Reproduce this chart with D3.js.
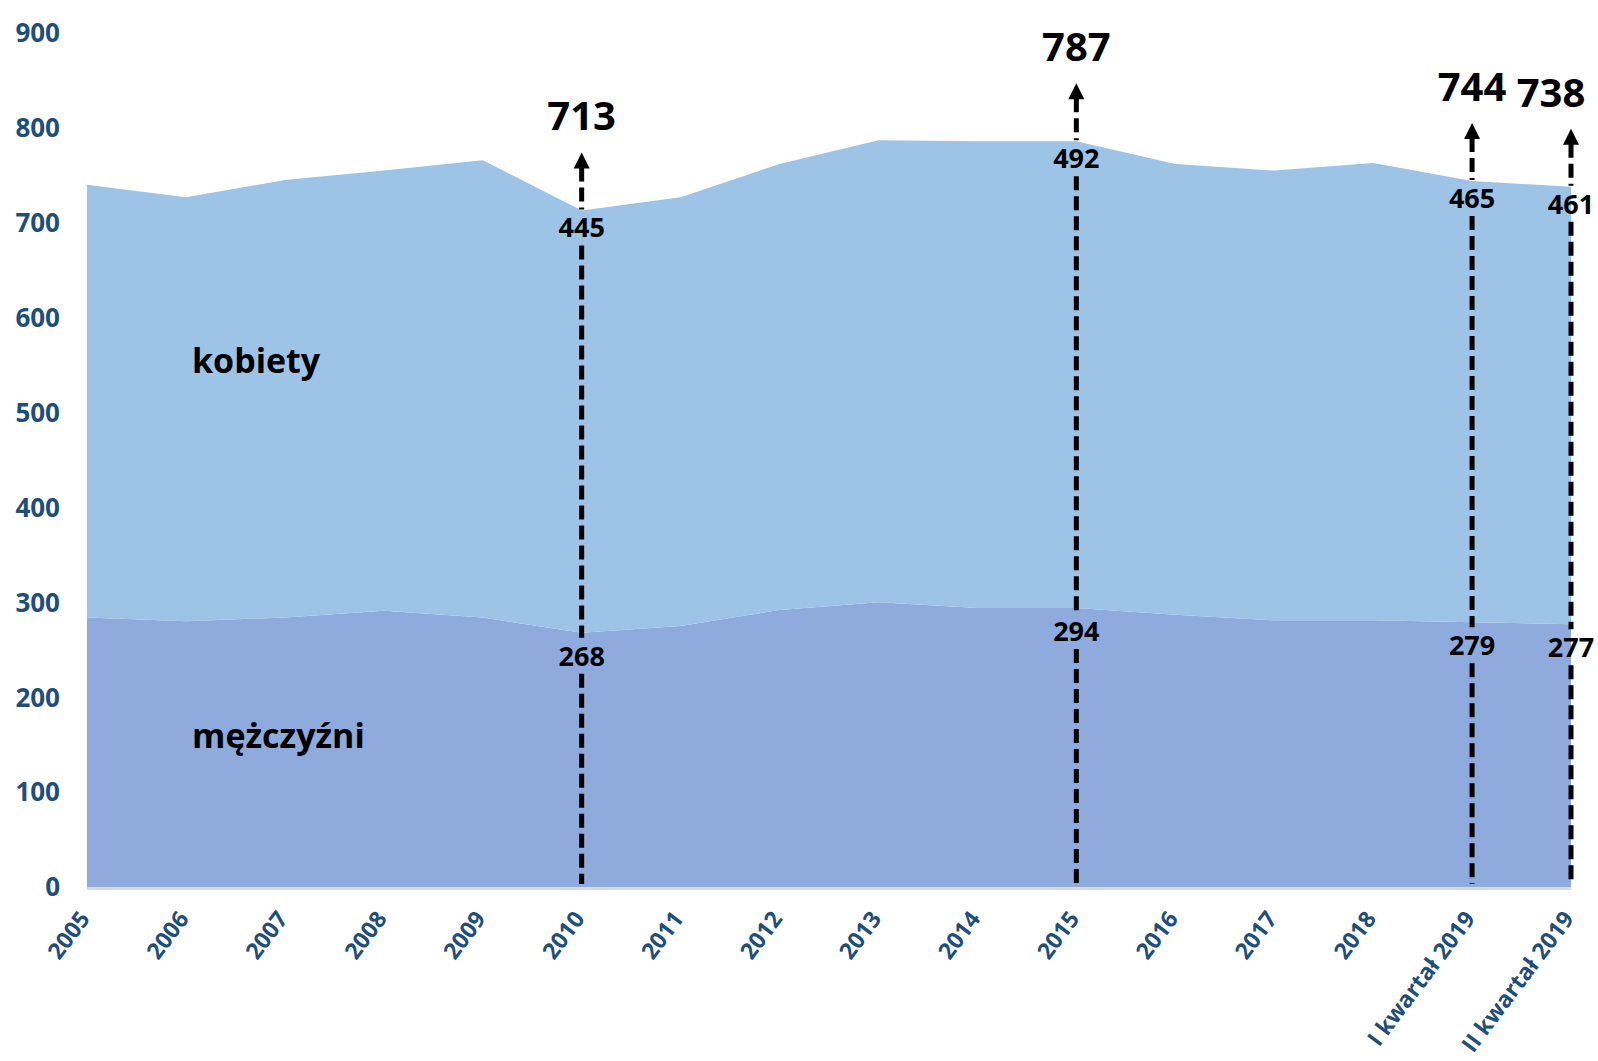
<!DOCTYPE html>
<meta charset='utf-8'>
<style>
  body { margin:0; background:#fff; }
  text { font-family:'Open Sans', sans-serif; font-weight:700; }
  .tick-y, .tick-x { fill:#1f4e79; }
  .note { fill:#000; }
</style>
<body>
  <div class='container'></div>
  <script src='https://d3js.org/d3.v7.min.js'></script>
  <script>
    var width = 1598;
    var height = 1061;

    // data (tys. osób) ---------------------------------------------------
    var categories = ['2005','2006','2007','2008','2009','2010','2011','2012','2013',
      '2014','2015','2016','2017','2018','I kwartał 2019','II kwartał 2019'];
    var men   = [284,280,284,291,284,268,275,292,300,294,294,287,281,281,279,277];
    var women = [456,447,461,464,482,445,452,470,487,492,492,475,474,482,465,461];
    var yTicks = [0,100,200,300,400,500,600,700,800,900];

    // annotated points and the totals printed above them
    var noteCats   = ['2010','2015','I kwartał 2019','II kwartał 2019'];
    var noteTotals = [713,787,744,738];

    var svg = d3.select('.container').append('svg')
      .attr('width',width)
      .attr('height',height);

    var x = d3.scalePoint().domain(categories).range([87,1571]);
    var y = d3.scaleLinear().domain([0,900]).range([887,33]);

    var rows = categories.map(function(c,i) {
      return {cat:c, men:men[i], women:women[i]};
    });
    var stack = d3.stack().keys(['men','women'])(rows);
    var colors = {men:'#8faadc', women:'#9dc3e6'};

    var area = d3.area()
      .x(function(d) { return x(d.data.cat); })
      .y0(function(d) { return y(d[0]); })
      .y1(function(d) { return y(d[1]); });

    svg.selectAll('path.layer')
      .data(stack)
      .enter().append('path')
      .attr('class','layer')
      .attr('fill',function(s) { return colors[s.key]; })
      .attr('d',area);

    // axis line
    svg.append('line')
      .attr('x1',x.range()[0]).attr('x2',x.range()[1])
      .attr('y1',y(0)+1.5).attr('y2',y(0)+1.5)
      .attr('stroke','#d9d9d9').attr('stroke-width',3);

    // y labels
    svg.selectAll('text.tick-y')
      .data(yTicks)
      .enter().append('text')
      .attr('class','tick-y')
      .attr('x',60)
      .attr('y',function(d) { return y(d); })
      .attr('dy','0.36em')
      .attr('text-anchor','end')
      .style('font-size','26px')
      .text(function(d) { return d; });

    // x labels
    svg.selectAll('text.tick-x')
      .data(categories)
      .enter().append('text')
      .attr('class','tick-x')
      .attr('text-anchor','end')
      .style('font-size','23px')
      .attr('transform',function(d) {
        return 'translate(' + (x(d)+4) + ',' + (y(0)+32) + ') rotate(-53)';
      })
      .text(function(d) { return d; });

    // series names
    svg.append('text').attr('class','note')
      .attr('x',192).attr('y',373)
      .style('font-size','34px')
      .text('kobiety');
    svg.append('text').attr('class','note')
      .attr('x',192).attr('y',748)
      .style('font-size','34px')
      .text('mężczyźni');

    // dashed arrows with values -----------------------------------------
    var dash = '14,6';
    noteCats.forEach(function(c,k) {
      var i = categories.indexOf(c);
      var cx = x(c);
      var yTop = y(men[i] + women[i]);
      var yMen = y(men[i]);
      var tip = yTop - 58;
      var womenBase = yTop + 27;
      var menBase = yMen + 33;
      var g = svg.append('g');

      var segs = [[tip+15, womenBase-28], [womenBase+8, menBase-28], [menBase+8, y(0)-3]];
      segs.forEach(function(s) {
        g.append('line')
          .attr('x1',cx).attr('x2',cx)
          .attr('y1',s[0]).attr('y2',s[1])
          .attr('stroke','#000')
          .attr('stroke-width',5)
          .attr('stroke-dasharray',dash);
      });
      g.append('path')
        .attr('d','M' + cx + ',' + tip + 'L' + (cx+8) + ',' + (tip+16) + 'L' + (cx-8) + ',' + (tip+16) + 'Z')
        .attr('fill','#000');

      var tx = Math.min(cx, width - 47);
      g.append('text').attr('class','note')
        .attr('x',tx).attr('y',tip-22)
        .attr('text-anchor','middle')
        .style('font-size','40px')
        .text(noteTotals[k]);
      g.append('text').attr('class','note')
        .attr('x',cx).attr('y',womenBase)
        .attr('text-anchor','middle')
        .style('font-size','27px')
        .text(women[i]);
      g.append('text').attr('class','note')
        .attr('x',cx).attr('y',menBase)
        .attr('text-anchor','middle')
        .style('font-size','27px')
        .text(men[i]);
    });
  </script>
</body>
